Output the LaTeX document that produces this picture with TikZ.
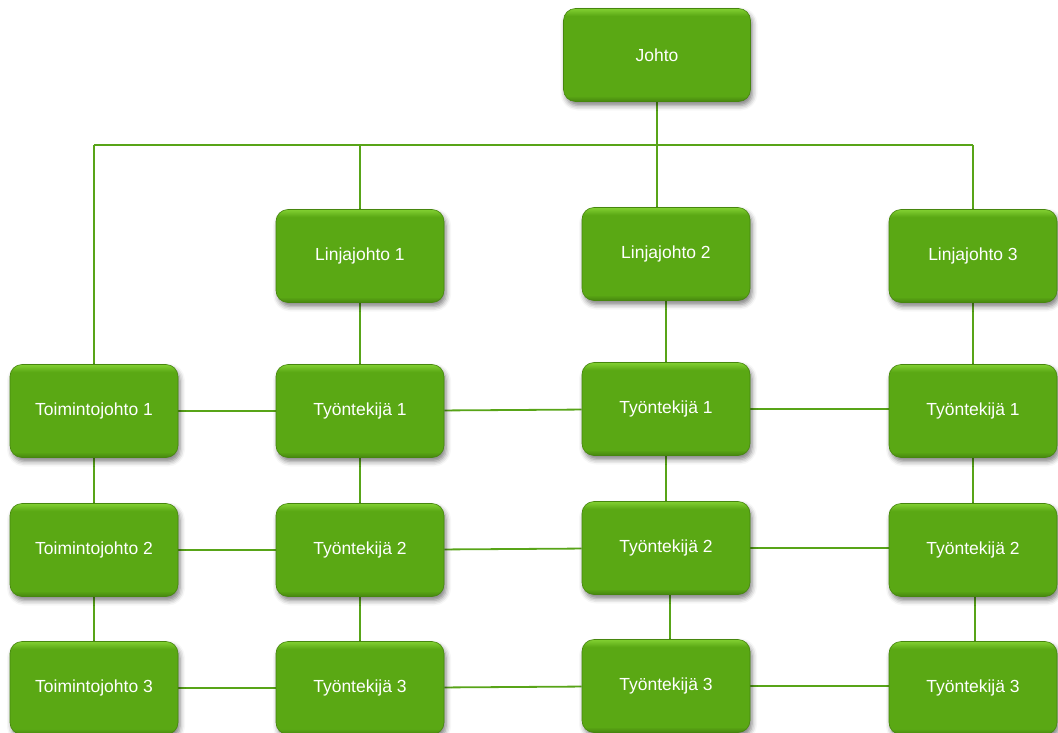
\documentclass[tikz,border=0pt]{standalone}
\usepackage{fontspec}
\setmainfont{Liberation Sans}
\usetikzlibrary{shadows.blur,backgrounds}
\definecolor{boxgreen}{RGB}{90,168,20}
\definecolor{rimlight}{RGB}{130,208,50}
\definecolor{rimdark}{RGB}{70,134,14}
\definecolor{linkgreen}{RGB}{88,164,24}
\pgfdeclareverticalshading{boxshade}{100bp}{%
  color(0bp)=(rimdark); color(25bp)=(rimdark); color(28bp)=(boxgreen);
  color(71bp)=(boxgreen); color(75bp)=(rimlight); color(100bp)=(rimlight)}
\tikzset{
  orgbox/.style={rounded corners=12pt, shading=boxshade, draw=rimdark,
    line width=0.6pt, minimum width=168pt, minimum height=93pt,
    text=white, font=\fontsize{17.5}{21}\selectfont, inner sep=0pt,
    blur shadow={shadow xshift=2pt, shadow yshift=-4pt,
      shadow blur radius=5pt, shadow opacity=50}},
  link/.style={draw=linkgreen, line width=1.8pt}
}
\begin{document}
\begin{tikzpicture}[x=1pt,y=-1pt]
\useasboundingbox (0,0) rectangle (1058,733);
% top level
\node[orgbox, minimum width=187pt] (johto) at (657,55) {Johto};
% line managers
\node[orgbox] (l1) at (360,256) {Linjajohto 1};
\node[orgbox] (l2) at (666,254) {Linjajohto 2};
\node[orgbox] (l3) at (973,256) {Linjajohto 3};
% functional managers
\node[orgbox] (f1) at (94,411) {Toimintojohto 1};
\node[orgbox] (f2) at (94,550) {Toimintojohto 2};
\node[orgbox] (f3) at (94,688) {Toimintojohto 3};
% employees, column 1
\node[orgbox] (a1) at (360,411) {Työntekijä 1};
\node[orgbox] (a2) at (360,550) {Työntekijä 2};
\node[orgbox] (a3) at (360,688) {Työntekijä 3};
% employees, column 2
\node[orgbox] (b1) at (666,409) {Työntekijä 1};
\node[orgbox] (b2) at (666,548) {Työntekijä 2};
\node[orgbox] (b3) at (666,686) {Työntekijä 3};
% employees, column 3
\node[orgbox] (c1) at (973,411) {Työntekijä 1};
\node[orgbox] (c2) at (973,550) {Työntekijä 2};
\node[orgbox] (c3) at (973,688) {Työntekijä 3};
% connectors, drawn behind the boxes
\begin{pgfonlayer}{background}
  \coordinate (bus) at (657,145);
  \coordinate (busL) at (94,145);
  \coordinate (busR) at (973,145);
  \draw[link] (johto.south) -- (bus);
  \draw[link] (busL) -- (busR);
  \draw[link] (busL) -- (f1.north);
  \draw[link] (bus -| l1.north) -- (l1.north);
  \draw[link] (bus) -- (bus |- l2.north);
  \draw[link] (busR) -- (l3.north);
  % columns
  \draw[link] (l1) -- (a1);
  \draw[link] (a1) -- (a2);
  \draw[link] (a2) -- (a3);
  \draw[link] (l2) -- (b1);
  \draw[link] (b1) -- (b2);
  \draw[link] ([xshift=4pt]b2.center) -- ([xshift=4pt]b3.center);
  \draw[link] (l3) -- (c1);
  \draw[link] (c1) -- (c2);
  \draw[link] ([xshift=2pt]c2.center) -- ([xshift=2pt]c3.center);
  \draw[link] (f1) -- (f2);
  \draw[link] (f2) -- (f3);
  % rows
  \draw[link] (f1) -- (a1);
  \draw[link] (a1) -- (b1);
  \draw[link] (b1 -| b1.east) -- (b1 -| c1.west);
  \draw[link] (f2) -- (a2);
  \draw[link] (a2) -- (b2);
  \draw[link] (b2 -| b2.east) -- (b2 -| c2.west);
  \draw[link] (f3) -- (a3);
  \draw[link] (a3) -- (b3);
  \draw[link] (b3 -| b3.east) -- (b3 -| c3.west);
\end{pgfonlayer}
\end{tikzpicture}
\end{document}
